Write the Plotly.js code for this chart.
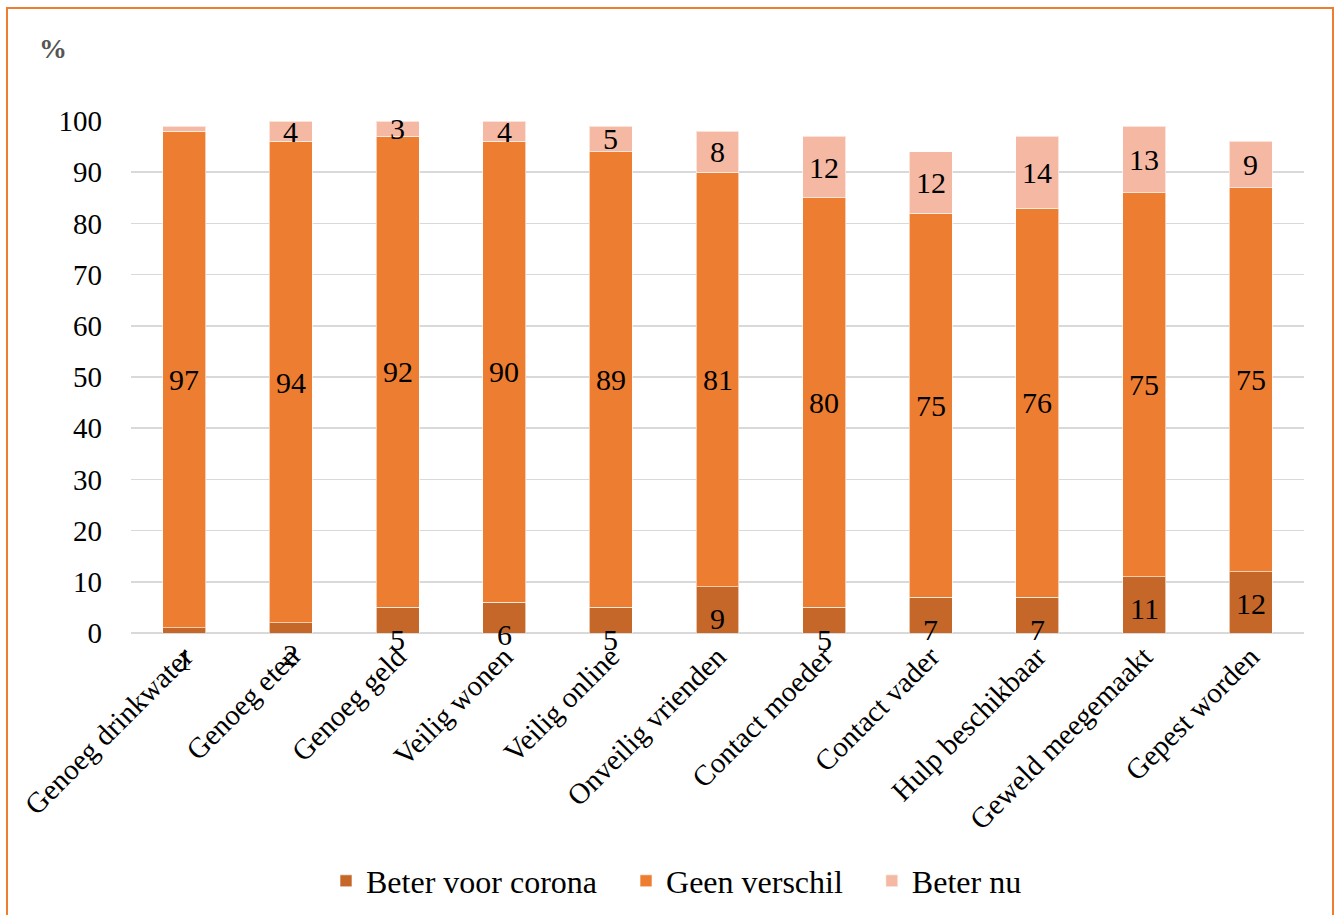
<!DOCTYPE html>
<html>
<head>
<meta charset="utf-8">
<script src="https://cdn.plot.ly/plotly-3.0.1.min.js"></script>
<style>
  html, body { margin: 0; padding: 0; background: #fff; }
  #chart { width: 1341px; height: 915px; }
</style>
</head>
<body>
<div id="chart"></div>
<script>
const categories = ['Genoeg drinkwater', 'Genoeg eten', 'Genoeg geld', 'Veilig wonen', 'Veilig online',
  'Onveilig vrienden', 'Contact moeder', 'Contact vader', 'Hulp beschikbaar', 'Geweld meegemaakt', 'Gepest worden'];
const beterVoorCorona = [1, 2, 5, 6, 5, 9, 5, 7, 7, 11, 12];
const geenVerschil = [97, 94, 92, 90, 89, 81, 80, 75, 76, 75, 75];
const beterNu = [1, 4, 3, 4, 5, 8, 12, 12, 14, 13, 9];
const seriesNames = ['Beter voor corona', 'Geen verschil', 'Beter nu'];

const FONT = 'Liberation Serif';
const colors = ['#C56729', '#ED7D31', '#F4B8A3'];
const series = [beterVoorCorona, geenVerschil, beterNu];
const PAD = '\u00a0\u00a0\u00a0';

const traces = series.map((vals, k) => ({
  type: 'bar',
  name: seriesNames[k] + (k < series.length - 1 ? PAD : ''),
  x: categories,
  y: vals,
  marker: { color: colors[k], line: { color: 'rgba(255,255,255,0.6)', width: 1 } },
  hoverinfo: 'skip'
}));

const LBL = { family: FONT, size: 30, color: '#000' };
const annotations = [];
categories.forEach((c, i) => {
  annotations.push({
    x: c, y: beterVoorCorona[i], xref: 'x', yref: 'y',
    text: String(beterVoorCorona[i]), showarrow: false,
    yanchor: 'middle', yshift: -32, font: LBL
  });
  annotations.push({
    x: c, y: beterVoorCorona[i] + geenVerschil[i] / 2, xref: 'x', yref: 'y',
    text: String(geenVerschil[i]), showarrow: false, yanchor: 'middle', font: LBL
  });
  if (beterNu[i] >= 2) {
    annotations.push({
      x: c, y: beterVoorCorona[i] + geenVerschil[i] + beterNu[i] / 2, xref: 'x', yref: 'y',
      text: String(beterNu[i]), showarrow: false, yanchor: 'middle', font: LBL
    });
  }
});

annotations.push({
  xref: 'paper', yref: 'paper', x: (37 - 131) / 1173, y: (633 - 48) / 512,
  xanchor: 'left', yanchor: 'middle', showarrow: false,
  text: '<b>%</b>', font: { family: FONT, size: 28, color: '#555' }
});

const layout = {
  width: 1341, height: 915,
  margin: { l: 131, r: 37, t: 121, b: 282, pad: 0 },
  paper_bgcolor: '#fff', plot_bgcolor: '#fff',
  font: { family: FONT, size: 29, color: '#000' },
  barmode: 'stack',
  bargap: 0.597,
  showlegend: true,
  legend: {
    orientation: 'h', xref: 'container', yref: 'container',
    x: 0.5 + 6 / 1341, xanchor: 'center', y: 1 - 881 / 915, yanchor: 'middle',
    font: { family: FONT, size: 32, color: '#000' },
    itemwidth: 30, traceorder: 'normal'
  },
  xaxis: {
    type: 'category',
    tickangle: -45,
    tickfont: { family: FONT, size: 29, color: '#000' },
    showgrid: false, showline: false, ticks: '', zeroline: false
  },
  yaxis: {
    range: [0, 100], dtick: 10, tick0: 0,
    tickfont: { family: FONT, size: 29, color: '#000' },
    showgrid: true, gridcolor: '#D9D9D9', gridwidth: 1.5,
    zeroline: true, zerolinecolor: '#D9D9D9', zerolinewidth: 1.5,
    showline: false, ticks: '', ticklen: 0, ticklabelstandoff: 28
  },
  shapes: [{
    type: 'rect', xref: 'paper', yref: 'paper',
    x0: (7 - 131) / 1173, x1: (1333 - 131) / 1173,
    y0: (633 - 930) / 512, y1: (633 - 8) / 512,
    line: { color: '#ED7D31', width: 2 }, fillcolor: 'rgba(0,0,0,0)', layer: 'above'
  }],
  annotations: annotations
};

Plotly.newPlot('chart', traces, layout, { displayModeBar: false, staticPlot: true });
</script>
</body>
</html>
